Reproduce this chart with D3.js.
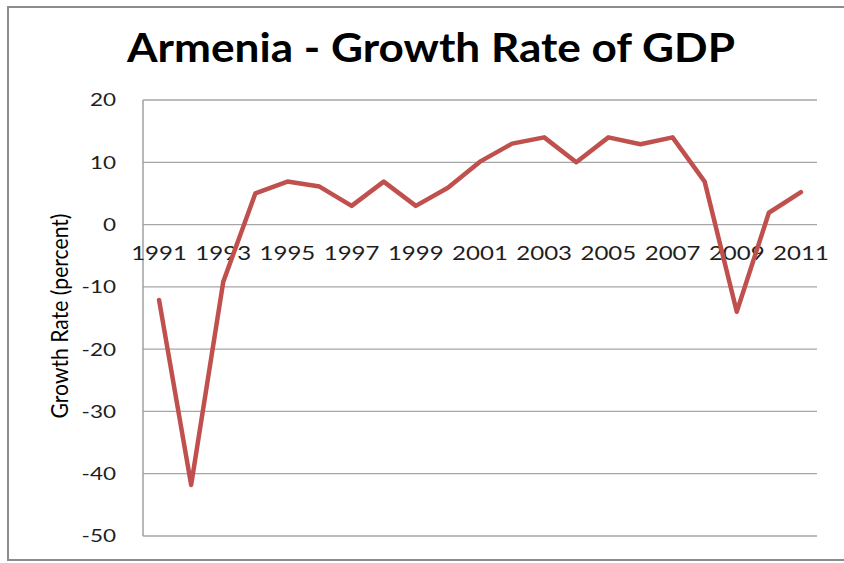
<!DOCTYPE html>
<html>
<head>
<meta charset="utf-8">
<script src="https://cdn.jsdelivr.net/npm/d3@7"></script>
<style>
  html, body { margin: 0; padding: 0; background: #fff; }
  svg { display: block; }
  text { font-family: Lato, "Open Sans", sans-serif; }
</style>
</head>
<body>
<svg id="chart" width="844" height="563"></svg>
<script>
// ---- data ----
const years = [1991,1992,1993,1994,1995,1996,1997,1998,1999,2000,2001,2002,2003,2004,2005,2006,2007,2008,2009,2010,2011];
const growth = [-12.1,-41.8,-9.2,5.0,6.9,6.1,3.0,6.9,3.0,5.9,10.1,13.0,14.0,10.0,14.0,12.9,14.0,6.9,-14.0,1.9,5.2];
const yTicks = [20,10,0,-10,-20,-30,-40,-50];
const xTickLabels = [1991,1993,1995,1997,1999,2001,2003,2005,2007,2009,2011];
const titleText = "Armenia - Growth Rate of GDP";
const yTitleText = "Growth Rate (percent)";

// ---- layout ----
const W = 844, H = 563;
const plot = { left: 143, right: 817, top: 100, bottom: 536 };
const stretch = 1.25;

const svg = d3.select("#chart");

// outer frame
svg.append("rect")
  .attr("x", 8).attr("y", 7)
  .attr("width", 860).attr("height", 553)
  .attr("fill", "none").attr("stroke", "#8c8c8c").attr("stroke-width", 2);

const x = d3.scaleBand().domain(years).range([plot.left, plot.right]);
const y = d3.scaleLinear().domain([-50, 20]).range([plot.bottom, plot.top]);

// gridlines
svg.append("g").selectAll("line").data(yTicks).join("line")
  .attr("x1", plot.left).attr("x2", plot.right)
  .attr("y1", d => y(d)).attr("y2", d => y(d))
  .attr("stroke", "#a6a6a6").attr("stroke-width", 1.3);

// y axis line
svg.append("line")
  .attr("x1", plot.left).attr("x2", plot.left)
  .attr("y1", plot.top).attr("y2", plot.bottom)
  .attr("stroke", "#a0a0a0").attr("stroke-width", 1.5);

// y tick labels
svg.append("g").selectAll("text").data(yTicks).join("text")
  .attr("transform", d => `translate(116,${y(d)}) scale(${stretch},1)`)
  .attr("text-anchor", "end")
  .attr("dy", "0.36em")
  .attr("font-size", 18)
  .attr("fill", "#1e1e1e")
  .text(d => d);

// x tick labels (under the zero line)
svg.append("g").selectAll("text").data(xTickLabels).join("text")
  .attr("transform", d => `translate(${x(d) + x.bandwidth()/2},260) scale(1.3,1)`)
  .attr("text-anchor", "middle")
  .attr("font-size", 18.5)
  .attr("fill", "#1e1e1e")
  .text(d => d);

// line
const line = d3.line()
  .x((d, i) => x(years[i]) + x.bandwidth()/2)
  .y(d => y(d));

svg.append("path")
  .datum(growth)
  .attr("d", line)
  .attr("fill", "none")
  .attr("stroke", "#c0504d")
  .attr("stroke-width", 4.5)
  .attr("stroke-linejoin", "round")
  .attr("stroke-linecap", "round");

// title
svg.append("text")
  .attr("x", 127).attr("y", 62)
  .attr("font-size", 41)
  .attr("font-weight", "bold")
  .attr("fill", "#000")
  .attr("textLength", 608)
  .attr("lengthAdjust", "spacingAndGlyphs")
  .text(titleText);

// y axis title
svg.append("text")
  .attr("transform", `translate(68,316) scale(1.1,1) rotate(-90)`)
  .attr("text-anchor", "middle")
  .attr("font-size", 21)
  .attr("fill", "#000")
  .attr("textLength", 205)
  .attr("lengthAdjust", "spacingAndGlyphs")
  .text(yTitleText);
</script>
</body>
</html>
